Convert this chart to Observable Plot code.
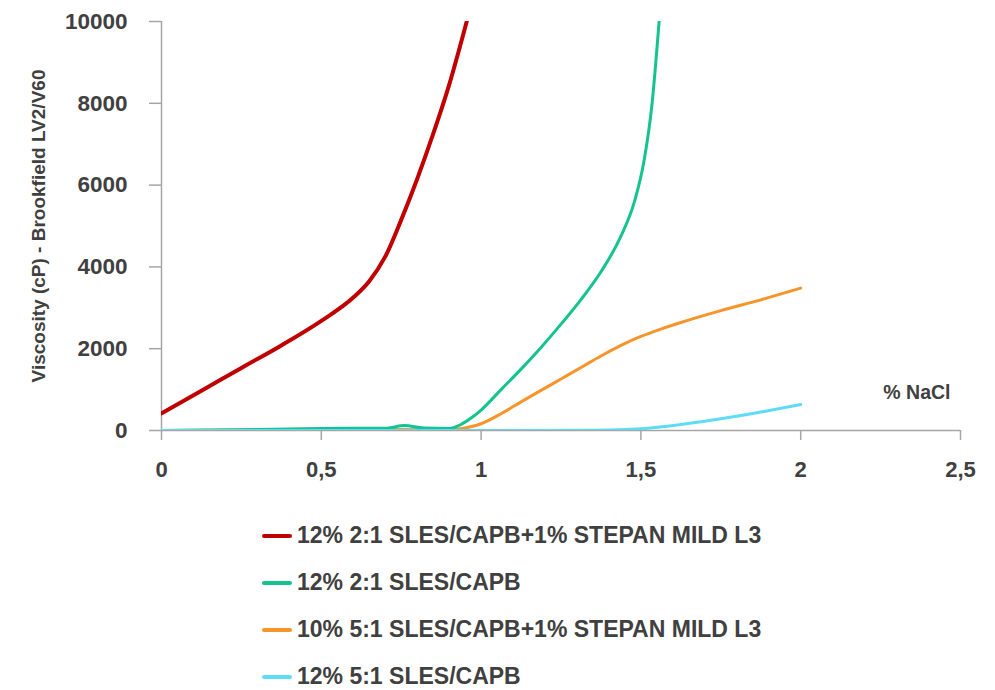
<!DOCTYPE html>
<html><head><meta charset="utf-8">
<script src="https://cdn.jsdelivr.net/npm/d3@7"></script>
<script src="https://cdn.jsdelivr.net/npm/@observablehq/plot@0.6"></script>
<style>
body{margin:0;background:#fff;font-family:"Liberation Sans",Arial,sans-serif;}
#legend{margin-left:262px;margin-top:22px;}
.row{display:flex;align-items:center;height:47px;font-weight:bold;font-size:23px;color:#404040;}
.sw{width:30px;height:4px;border-radius:2px;margin-right:5px;}
</style></head><body><div id="chart"></div><div id="legend"></div>
<script>
const seriesNames = [
  "12% 2:1 SLES/CAPB+1% STEPAN MILD L3",
  "12% 2:1 SLES/CAPB",
  "10% 5:1 SLES/CAPB+1% STEPAN MILD L3",
  "12% 5:1 SLES/CAPB"
];
const seriesColors = ["#c00000", "#14c38e", "#f7952b", "#5fdcf5"];

const redX = [0, 0.125, 0.25, 0.375, 0.5, 0.6, 0.65, 0.7, 0.75, 0.8, 0.85, 0.9, 0.955];
const redY = [420, 970, 1530, 2080, 2680, 3250, 3650, 4250, 5150, 6150, 7250, 8450, 10000];

const greenX = [0, 0.25, 0.5, 0.7, 0.76, 0.82, 0.9, 0.94, 0.97, 1.0, 1.0625, 1.125, 1.1875, 1.25, 1.3125, 1.375, 1.4375, 1.48, 1.51, 1.535, 1.557];
const greenY = [0, 20, 50, 55, 120, 60, 50, 160, 310, 500, 1000, 1500, 2030, 2600, 3200, 3880, 4750, 5600, 6600, 8000, 10000];

const orangeX = [0, 0.5, 0.9, 0.94, 1.0, 1.0625, 1.125, 1.1875, 1.25, 1.3125, 1.375, 1.4375, 1.5, 1.5625, 1.625, 1.75, 1.875, 2.0];
const orangeY = [0, 30, 20, 50, 165, 410, 700, 980, 1260, 1540, 1820, 2080, 2300, 2480, 2640, 2930, 3195, 3480];

const cyanX = [0, 1.0, 1.4, 1.5, 1.625, 1.75, 1.875, 2.0];
const cyanY = [0, 0, 10, 40, 145, 285, 450, 635];

const xTicks = [0, 0.5, 1, 1.5, 2, 2.5];
const xTickLabels = ["0", "0,5", "1", "1,5", "2", "2,5"];
const yTicks = [0, 2000, 4000, 6000, 8000, 10000];
const yTickLabels = ["0", "2000", "4000", "6000", "8000", "10000"];
const yLabel = "Viscosity (cP) - Brookfield LV2/V60";
const xLabel = "% NaCl";

const toRows = (xs, ys) => xs.map((x, i) => ({x, y: ys[i]}));
const red = toRows(redX, redY);
const green = toRows(greenX, greenY);
const orange = toRows(orangeX, orangeY);
const cyan = toRows(cyanX, cyanY);

const grey = "#a6a6a6";
const txt = "#404040";

const chart = Plot.plot({
  width: 995, height: 490,
  marginLeft: 161, marginRight: 35, marginTop: 21, marginBottom: 60,
  style: {fontFamily: "'Liberation Sans', Arial, sans-serif", fontWeight: "bold", color: txt, background: "white"},
  x: {domain: [0, 2.5]},
  y: {domain: [0, 10000]},
  marks: [
    Plot.axisY({ticks: yTicks, tickSize: 12, tickPadding: 22, tickFormat: d => yTickLabels[yTicks.indexOf(d)], label: null, fontSize: 22.5, stroke: grey, fill: txt, strokeWidth: 1.5}),
    Plot.axisX({ticks: xTicks, tickSize: 10, tickPadding: 21, tickFormat: d => xTickLabels[xTicks.indexOf(d)], label: null, fontSize: 22, stroke: grey, fill: txt, strokeWidth: 1.5}),
    Plot.ruleX([0], {stroke: grey, strokeWidth: 1.5}),
    Plot.ruleY([0], {stroke: grey, strokeWidth: 1.5}),
    Plot.line(orange, {x: "x", y: "y", stroke: seriesColors[2], strokeWidth: 3, curve: "monotone-x", clip: true}),
    Plot.line(green, {x: "x", y: "y", stroke: seriesColors[1], strokeWidth: 3, curve: "monotone-x", clip: true}),
    Plot.line(red, {x: "x", y: "y", stroke: seriesColors[0], strokeWidth: 4, curve: "monotone-x", clip: true}),
    Plot.line(cyan, {x: "x", y: "y", stroke: seriesColors[3], strokeWidth: 3, curve: "monotone-x", clip: true}),
    Plot.text([yLabel], {text: d => d, frameAnchor: "left", dx: -123, rotate: -90, textAnchor: "middle", fontSize: 19, fill: txt}),
    Plot.text([xLabel], {text: d => d, frameAnchor: "bottom-right", dx: -10, dy: -32, textAnchor: "end", fontSize: 19.5, fill: txt})
  ]
});
document.getElementById("chart").appendChild(chart);

const legend = document.getElementById("legend");
seriesNames.forEach((name, i) => {
  const row = document.createElement("div");
  row.className = "row";
  const sw = document.createElement("span");
  sw.className = "sw";
  sw.style.background = seriesColors[i];
  const t = document.createElement("span");
  t.textContent = name;
  row.appendChild(sw); row.appendChild(t);
  legend.appendChild(row);
});
</script></body></html>
